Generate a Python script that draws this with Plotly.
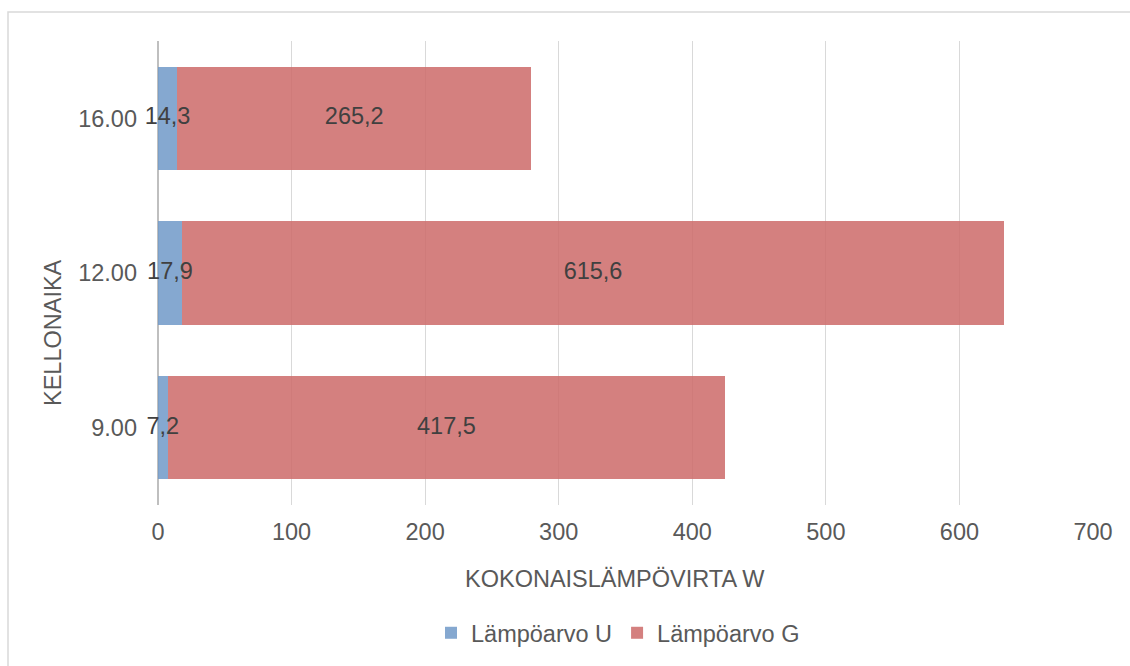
import plotly.graph_objects as go

categories = ["9.00", "12.00", "16.00"]
values_u = [7.2, 17.9, 14.3]
values_g = [417.5, 615.6, 265.2]
series_names = ["Lämpöarvo U", "Lämpöarvo G"]
x_ticks = [0, 100, 200, 300, 400, 500, 600, 700]

W, H = 1130, 666
L, R, T, B = 158, 37, 41, 161
pw = W - L - R
ph = H - T - B

def px_x(p):
    return (p - L) / pw

def px_y(p):
    return (H - B - p) / ph

def fmt(v):
    return f"{v:.1f}".replace(".", ",")

FONT = "Liberation Sans, Arial, sans-serif"
FS = 23.5
blue = "rgba(112,153,200,0.85)"
red = "rgba(204,106,104,0.85)"

fig = go.Figure()
fig.add_trace(go.Bar(y=categories, x=values_u, orientation="h", name=series_names[0],
                     marker=dict(color=blue, line=dict(width=0))))
fig.add_trace(go.Bar(y=categories, x=values_g, orientation="h", name=series_names[1],
                     marker=dict(color=red, line=dict(width=0))))

# data labels, centred in each segment
fig.add_trace(go.Scatter(y=categories, x=[u / 2 for u in values_u], mode="text",
                         text=[fmt(u) for u in values_u], showlegend=False, hoverinfo="skip",
                         textfont=dict(family=FONT, size=FS, color="#404040"), cliponaxis=False))
fig.add_trace(go.Scatter(y=categories, x=[u + g / 2 for u, g in zip(values_u, values_g)], mode="text",
                         text=[fmt(g) for g in values_g], showlegend=False, hoverinfo="skip",
                         textfont=dict(family=FONT, size=FS, color="#404040"), cliponaxis=False))

fig.update_layout(
    width=W, height=H,
    margin=dict(l=L, r=R, t=T, b=B, autoexpand=False),
    barmode="stack", bargap=0.333,
    paper_bgcolor="white", plot_bgcolor="white",
    font=dict(family=FONT, size=FS, color="#595959"),
    xaxis=dict(range=[0, 700], tickvals=x_ticks, ticktext=[str(t) for t in x_ticks],
               showgrid=True, gridcolor="#d9d9d9", gridwidth=1.2,
               zeroline=True, zerolinecolor="#bfbfbf", zerolinewidth=2,
               showline=False, ticks="", ticklabelstandoff=10,
               tickfont=dict(family=FONT, size=FS, color="#595959"), fixedrange=True),
    yaxis=dict(type="category", categoryorder="array", categoryarray=categories,
               range=[-0.5, 2.5], showgrid=False, zeroline=False, showline=False, ticks="",
               ticklabelstandoff=20,
               tickfont=dict(family=FONT, size=FS, color="#595959"), fixedrange=True),
    legend=dict(orientation="h", x=px_x(618), xanchor="center", y=px_y(633), yanchor="middle",
                font=dict(family=FONT, size=FS, color="#595959"), traceorder="normal",
                itemwidth=30, bgcolor="rgba(0,0,0,0)"),
    showlegend=True,
    annotations=[
        dict(text="KOKONAISLÄMPÖVIRTA W", xref="paper", yref="paper", x=px_x(615), y=px_y(579),
             xanchor="center", yanchor="middle", showarrow=False,
             font=dict(family=FONT, size=FS, color="#595959")),
        dict(text="KELLONAIKA", xref="paper", yref="paper", x=px_x(53), y=px_y(333),
             xanchor="center", yanchor="middle", showarrow=False, textangle=-90,
             font=dict(family=FONT, size=FS, color="#595959")),
    ],
    shapes=[
        dict(type="rect", xref="paper", yref="paper", x0=px_x(8), x1=px_x(1140),
             y0=px_y(12), y1=px_y(680), line=dict(color="#d9d9d9", width=1.5),
             fillcolor="rgba(0,0,0,0)", layer="below"),
    ],
)

fig.write_html("out.html")
